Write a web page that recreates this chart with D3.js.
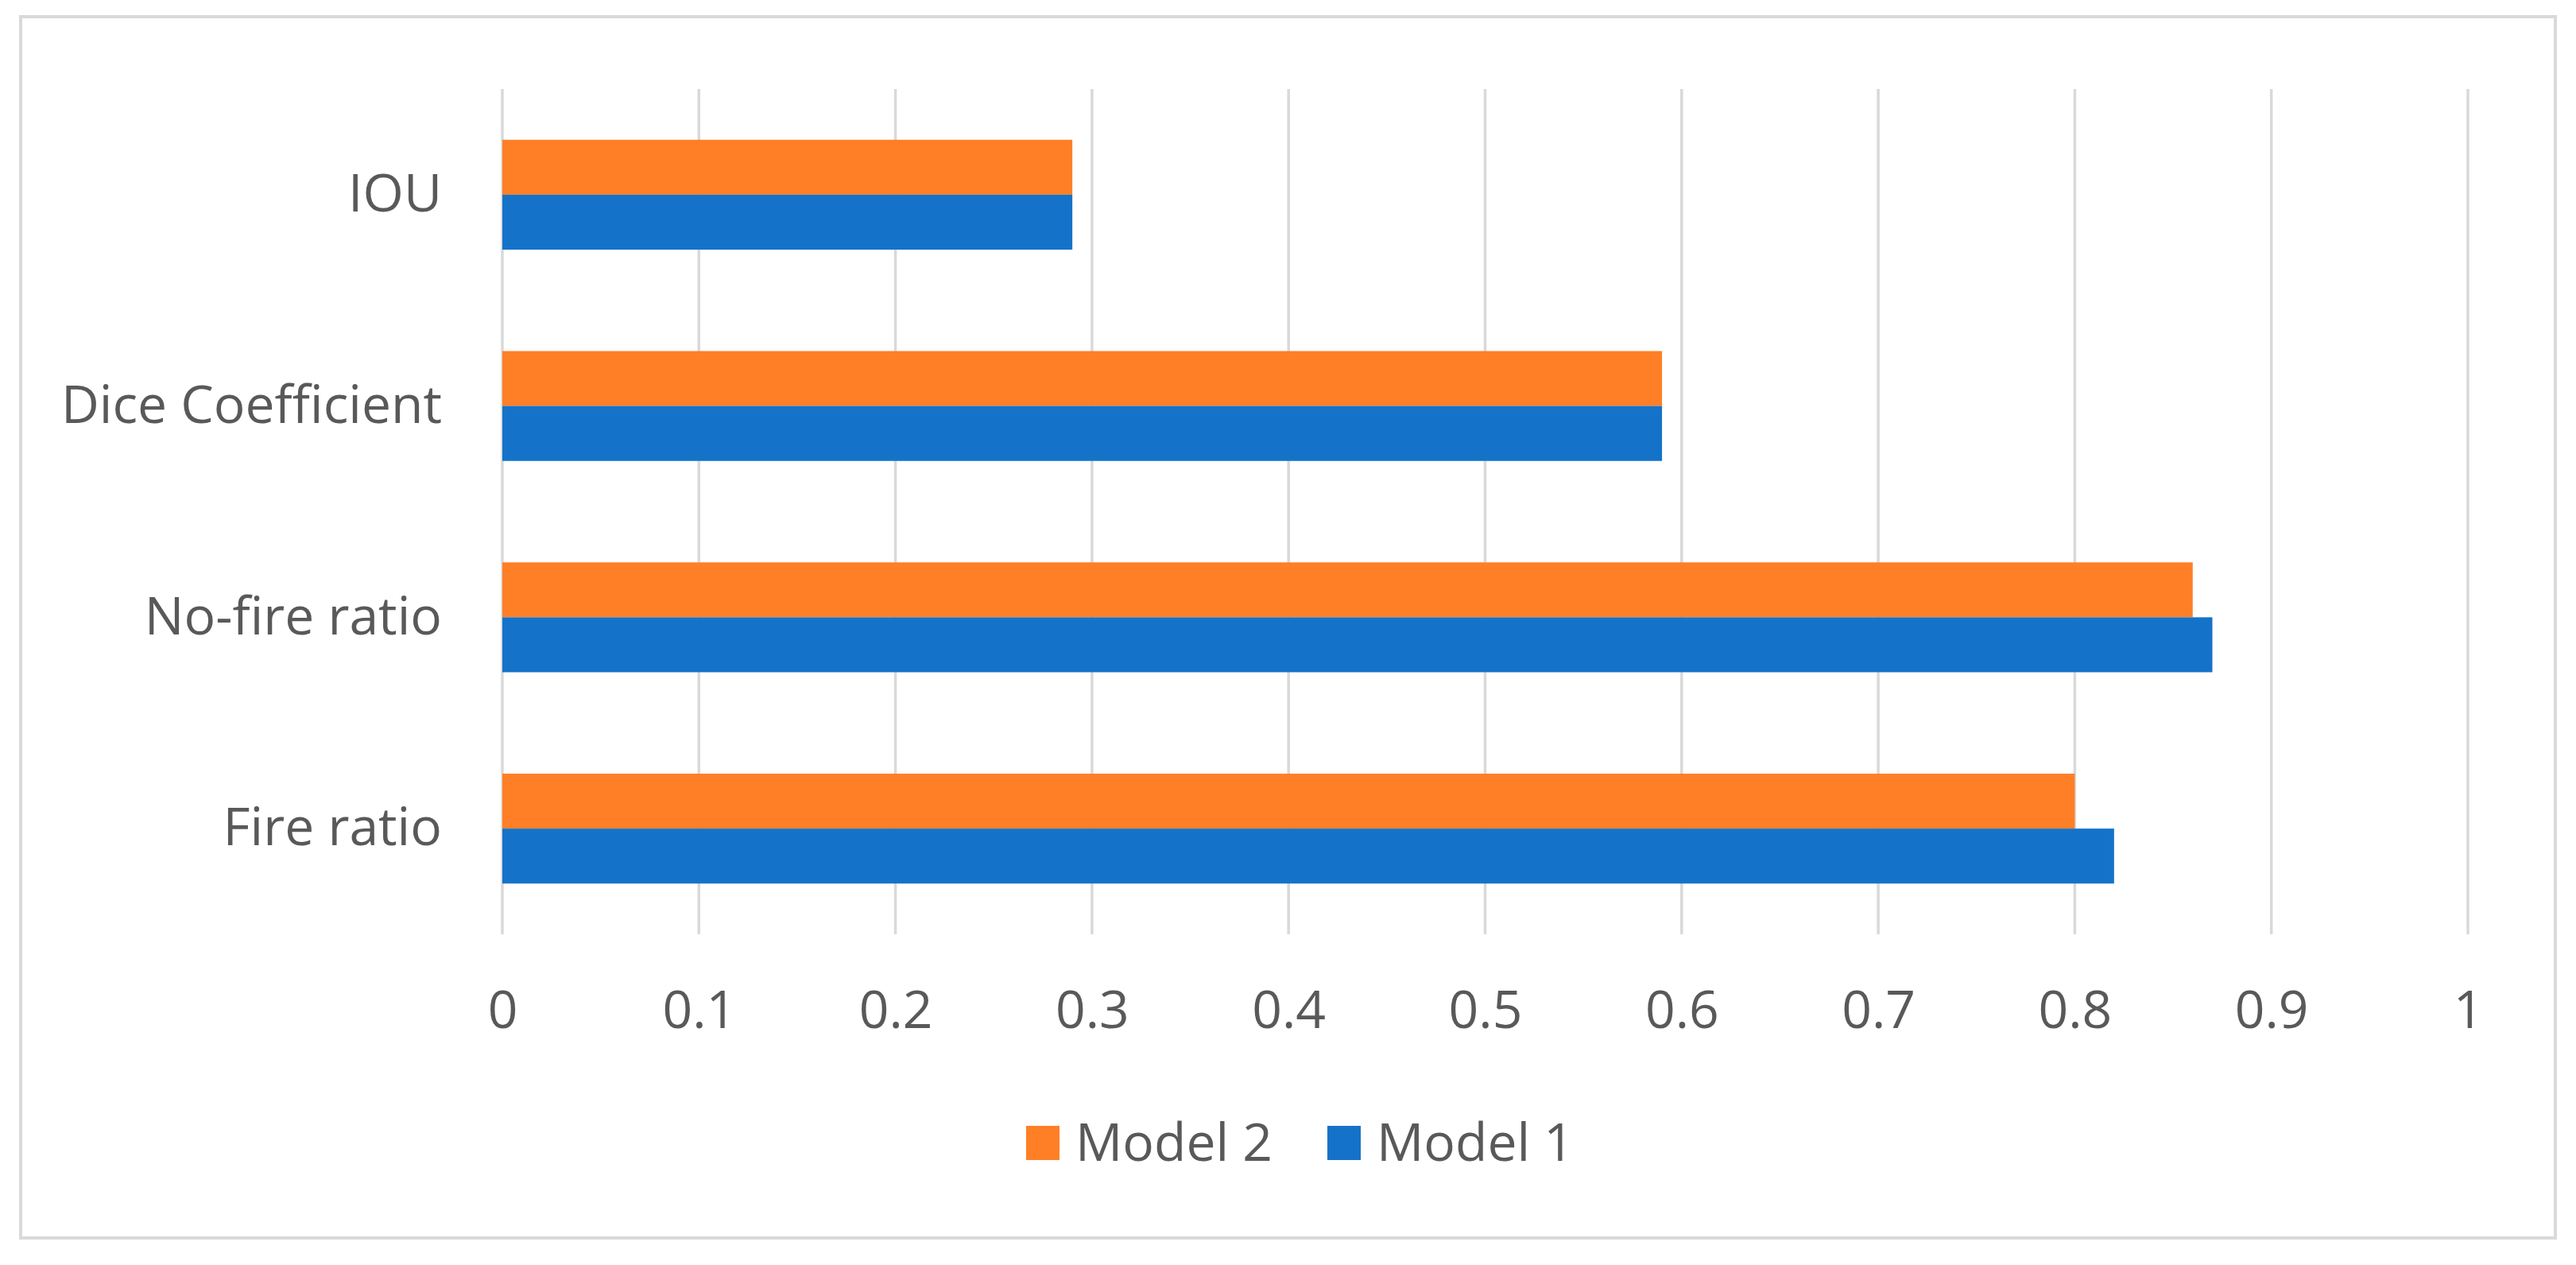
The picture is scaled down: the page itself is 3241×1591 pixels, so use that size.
<!DOCTYPE html>
<html>
<head>
<meta charset="utf-8">
<script src="https://cdn.jsdelivr.net/npm/d3@7"></script>
<style>
  html, body { margin: 0; padding: 0; background: #ffffff; }
  svg { display: block; }
</style>
</head>
<body>
<svg id="chart" width="3241" height="1591"></svg>
<script>
// ---- data ----
const categories = ["IOU", "Dice Coefficient", "No-fire ratio", "Fire ratio"];
const seriesNames = ["Model 2", "Model 1"];
const model2 = [0.29, 0.59, 0.86, 0.80];
const model1 = [0.29, 0.59, 0.87, 0.82];
const xTicks = [0, 0.1, 0.2, 0.3, 0.4, 0.5, 0.6, 0.7, 0.8, 0.9, 1];
const legendOrder = ["Model 2", "Model 1"];

// ---- styling / layout ----
const colors = { "Model 2": "#ff7f27", "Model 1": "#1473c8" };
const textColor = "#595959";
const gridColor = "#d9d9d9";
const fontFamily = "'Open Sans', 'Noto Sans', sans-serif";
const fontSize = 66;

const W = 3241, H = 1591;
const plot = { left: 632, right: 3105, top: 112, bottom: 1175 };

const svg = d3.select("#chart");

// background + frame
svg.append("rect").attr("x", 0).attr("y", 0).attr("width", W).attr("height", H).attr("fill", "#ffffff");
svg.append("rect")
  .attr("x", 26).attr("y", 21).attr("width", 3189).attr("height", 1536)
  .attr("fill", "#ffffff").attr("stroke", gridColor).attr("stroke-width", 4);

const x = d3.scaleLinear().domain([0, 1]).range([plot.left, plot.right]);
const y = d3.scaleBand().domain(categories).range([plot.top, plot.bottom])
  .paddingInner(0.48).paddingOuter(0.24);
const ySub = d3.scaleBand().domain(seriesNames).range([0, y.bandwidth()]).padding(0);

// gridlines
svg.append("g").selectAll("line").data(xTicks).join("line")
  .attr("x1", d => x(d)).attr("x2", d => x(d))
  .attr("y1", plot.top).attr("y2", plot.bottom)
  .attr("stroke", gridColor).attr("stroke-width", 3.5);

// bars
const rows = categories.map((c, i) => ({ cat: c, values: [
  { s: "Model 2", v: model2[i] }, { s: "Model 1", v: model1[i] } ] }));

const groups = svg.append("g").selectAll("g").data(rows).join("g")
  .attr("transform", d => `translate(0,${y(d.cat)})`);
groups.selectAll("rect").data(d => d.values).join("rect")
  .attr("x", x(0))
  .attr("y", d => ySub(d.s))
  .attr("width", d => x(d.v) - x(0))
  .attr("height", ySub.bandwidth())
  .attr("fill", d => colors[d.s]);

// x axis labels
const xAxis = d3.axisBottom(x).tickValues(xTicks).tickSize(0).tickPadding(0)
  .tickFormat(d => d3.format("~g")(d));
const gx = svg.append("g").attr("transform", `translate(0,${plot.bottom})`).call(xAxis);
gx.select(".domain").remove();
gx.selectAll("text")
  .attr("y", 95).attr("dy", "0.35em")
  .attr("fill", textColor).style("font-family", fontFamily).style("font-size", fontSize + "px");

// y axis labels
const yAxis = d3.axisLeft(y).tickSize(0).tickPadding(76);
const gy = svg.append("g").attr("transform", `translate(${plot.left},0)`).call(yAxis);
gy.select(".domain").remove();
gy.selectAll("text")
  .attr("fill", textColor).style("font-family", fontFamily).style("font-size", fontSize + "px");

// legend
const legendX = [1291, 1670];
const legendY = 1437;
const lg = svg.append("g").selectAll("g").data(legendOrder).join("g")
  .attr("transform", (d, i) => `translate(${legendX[i]},${legendY})`);
lg.append("rect").attr("x", 0).attr("y", -21).attr("width", 42).attr("height", 43)
  .attr("fill", d => colors[d]);
lg.append("text").attr("x", 62).attr("y", 0).attr("dy", "0.35em")
  .attr("fill", textColor).style("font-family", fontFamily).style("font-size", fontSize + "px")
  .text(d => d);
</script>
</body>
</html>
